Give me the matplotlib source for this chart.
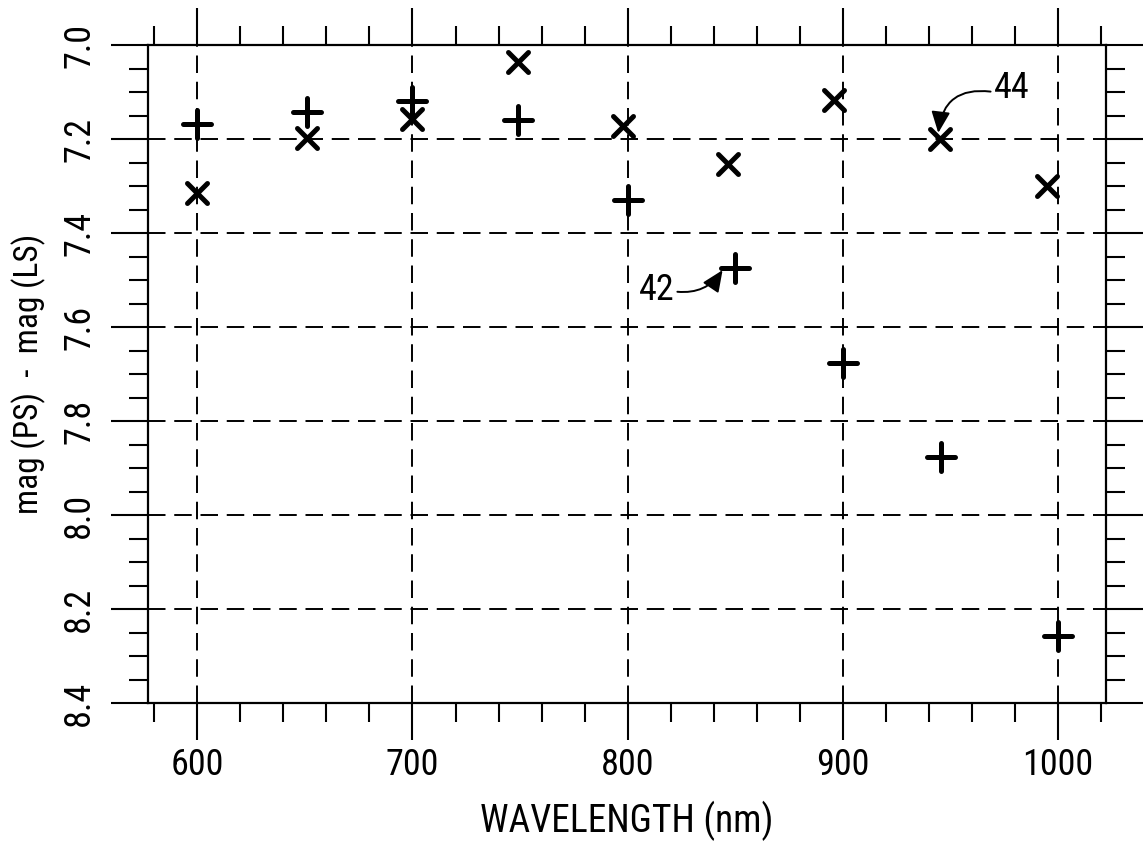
#!/usr/bin/env python3
"""Colour-difference magnitude vs wavelength, two series (42: plus, 44: cross)."""
import matplotlib

matplotlib.use("Agg")
import matplotlib.pyplot as plt  # noqa: E402
from matplotlib.markers import MarkerStyle  # noqa: E402
from matplotlib.ticker import MultipleLocator  # noqa: E402

plt.rcParams["font.family"] = ["Roboto Condensed", "DejaVu Sans"]

# series 42 (plus markers)
plus_wl = [600, 651, 700, 749, 800, 850, 900, 946, 1000]
plus_mag = [7.168, 7.143, 7.12, 7.16, 7.33, 7.474, 7.677, 7.877, 8.258]
# series 44 (cross markers)
cross_wl = [600, 651, 700, 749, 798, 846.5, 896, 945.5, 995]
cross_mag = [7.314, 7.198, 7.157, 7.036, 7.172, 7.253, 7.118, 7.20, 7.30]

XTICKS = [600, 700, 800, 900, 1000]
YTICKS = [7.0, 7.2, 7.4, 7.6, 7.8, 8.0, 8.2, 8.4]

FS = 26
INK = "black"

fig = plt.figure(figsize=(11.47, 8.49), dpi=100)
ax = fig.add_axes([148 / 1147, 1 - 703 / 849, (1106 - 148) / 1147, (703 - 45) / 849])

ax.set_xlim(577, 1022.5)
ax.set_ylim(8.4, 7.0)

ax.set_xticks(XTICKS)
ax.set_xticklabels([str(t) for t in XTICKS], fontsize=FS)
ax.xaxis.set_minor_locator(MultipleLocator(20))
ax.set_yticks(YTICKS)
ax.set_yticklabels([f"{t:.1f}" for t in YTICKS], fontsize=FS, rotation=90, va="center")
ax.yaxis.set_minor_locator(MultipleLocator(0.05))

ax.tick_params(which="both", direction="out", top=True, right=True, width=1.5, color=INK)
ax.tick_params(which="major", length=26.5)
ax.tick_params(which="minor", length=13.5)
ax.tick_params(axis="x", which="major", pad=5)
ax.tick_params(axis="y", which="major", pad=10)

for s in ax.spines.values():
    s.set_linewidth(1.6)
    s.set_color(INK)

ax.grid(True, which="major", color=INK, lw=1.4, ls=(0, (9, 4.5)))
ax.set_axisbelow(True)

plus_m = MarkerStyle("+", capstyle="round")
cross_m = MarkerStyle("x", capstyle="round")
ax.plot(plus_wl, plus_mag, ls="none", marker=plus_m, ms=20, mew=3.6, color=INK, zorder=3)
ax.plot(cross_wl, cross_mag, ls="none", marker=cross_m, ms=15, mew=3.6, color=INK, zorder=3)

ax.set_xlabel("WAVELENGTH (nm)", fontsize=FS + 1, labelpad=13)
ax.set_ylabel("mag (PS)  -  mag (LS)", fontsize=FS - 2, labelpad=11)

# reference-numeral callouts
arrow = dict(arrowstyle="-|>,head_length=0.5,head_width=0.22", color=INK, lw=1.4,
             shrinkA=0, shrinkB=0)
ax.annotate("44", xy=(944.5, 7.187), xytext=(978.8, 7.0915), fontsize=FS,
            ha="center", va="center",
            arrowprops=dict(arrow, connectionstyle="arc3,rad=0.5", relpos=(-0.1, 0.4)))
ax.annotate("42", xy=(844.2, 7.479), xytext=(813.6, 7.521), fontsize=FS,
            ha="center", va="center",
            arrowprops=dict(arrow, connectionstyle="arc3,rad=0.3", relpos=(1.05, 0.45)))

fig.savefig("out.png", dpi=100, facecolor="white")
